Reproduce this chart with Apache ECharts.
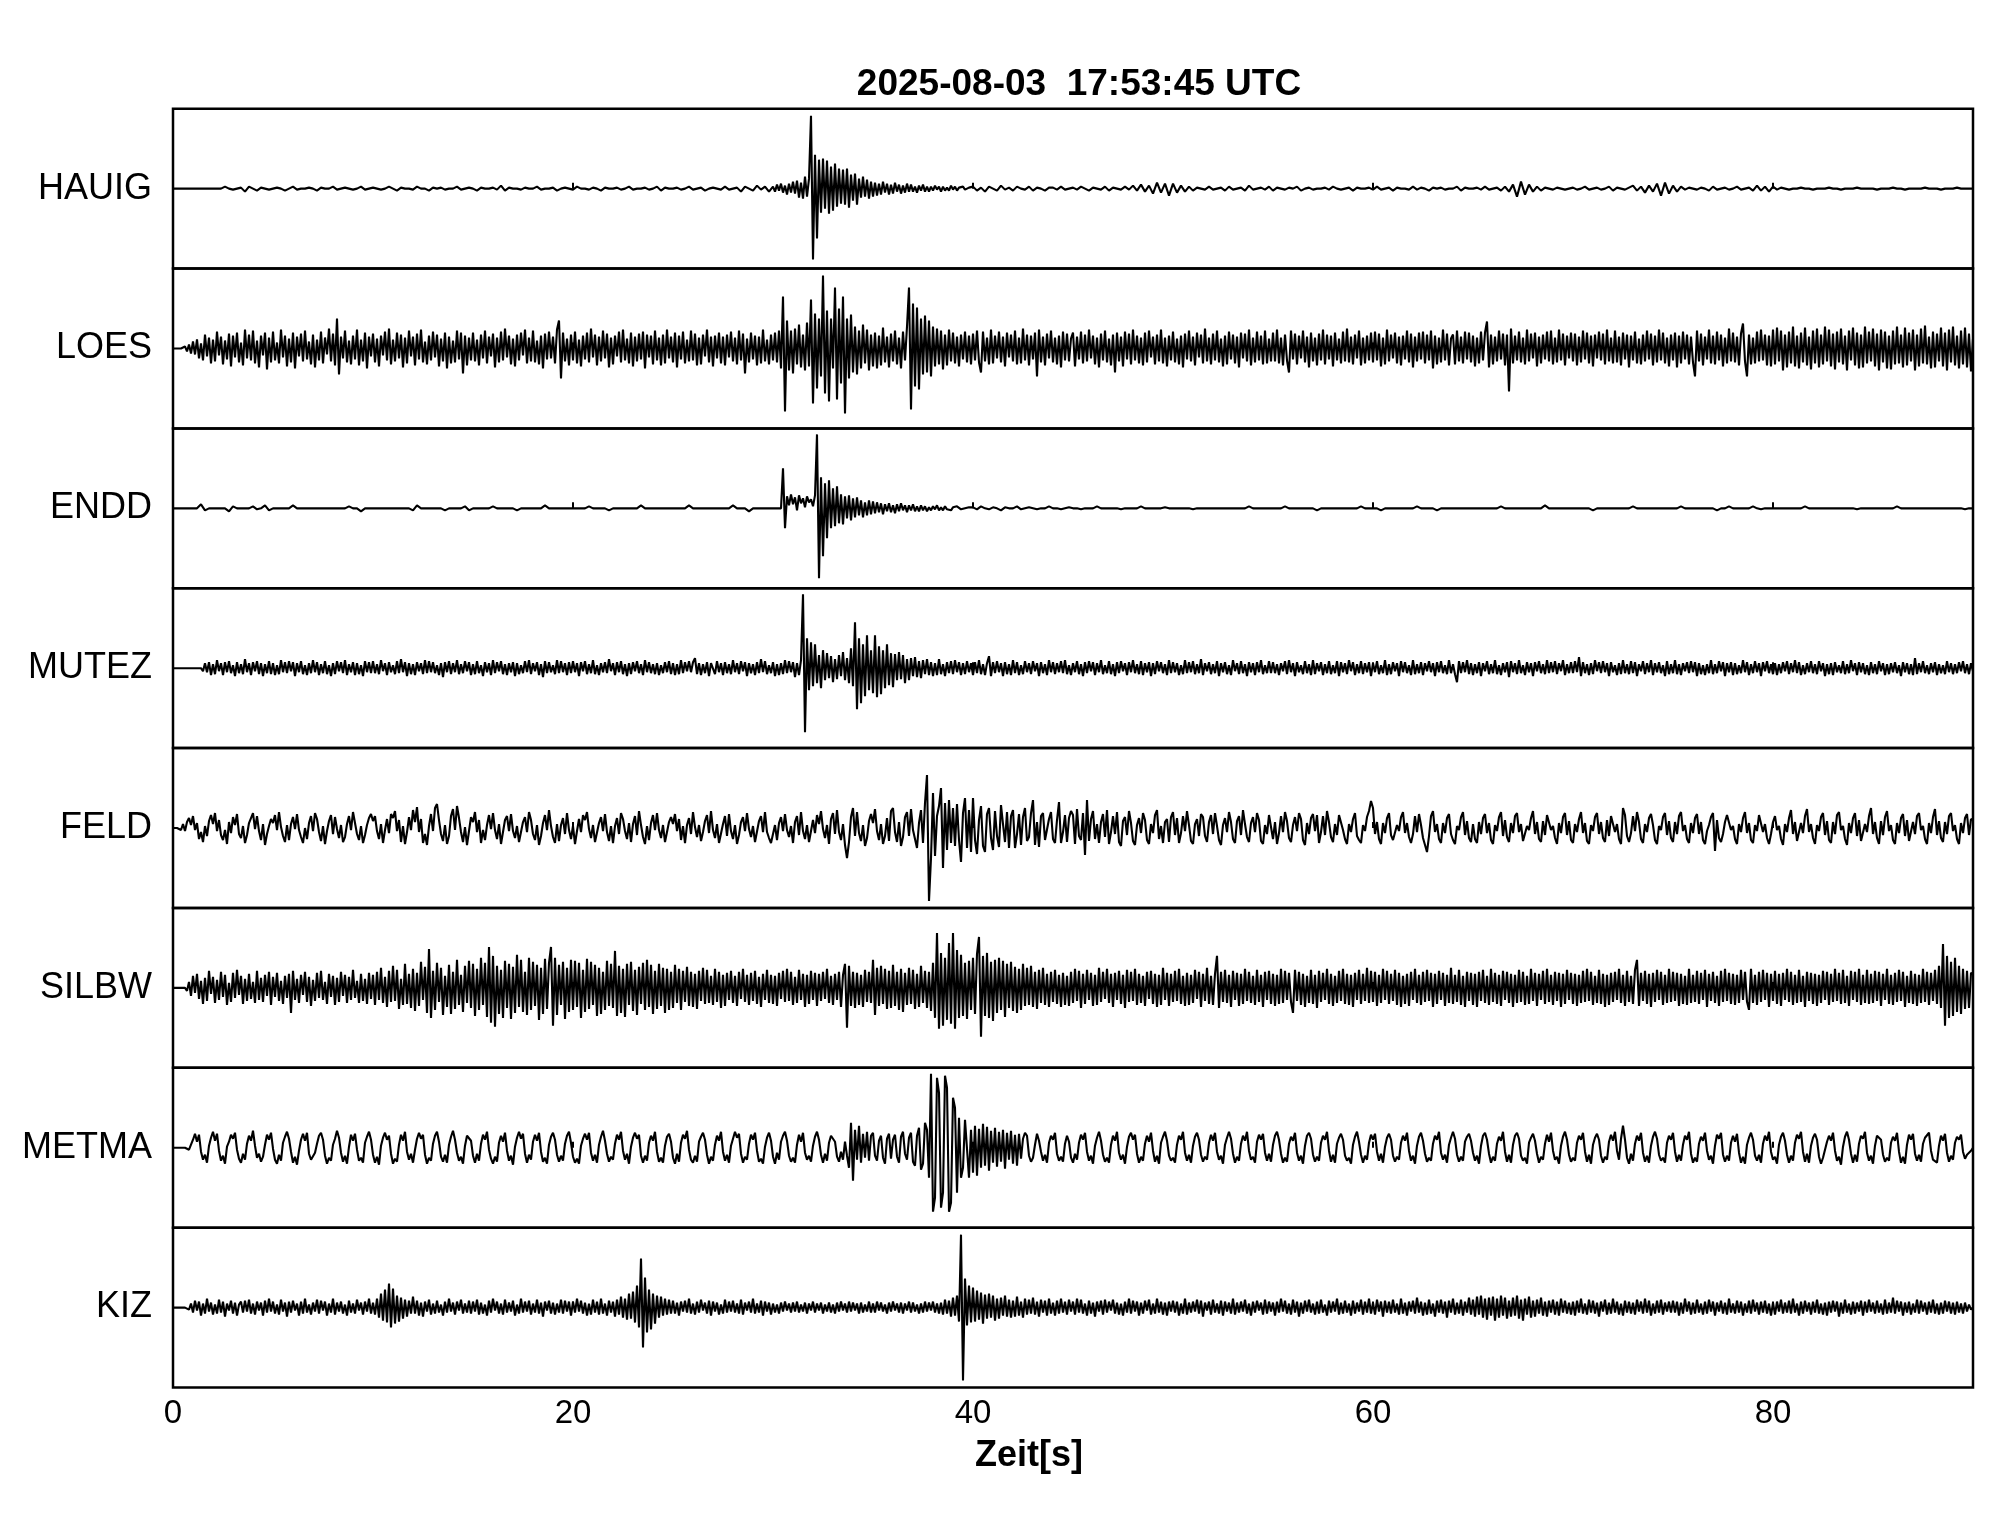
<!DOCTYPE html>
<html><head><meta charset="utf-8">
<script src="https://cdn.jsdelivr.net/npm/echarts@6/dist/echarts.min.js"></script>
<style>html,body{margin:0;padding:0;background:#fff}#c{width:2005px;height:1522px}</style>
</head><body><div id="c"></div>
<script>
// ---- data ----
// Each trace is a list of 5-second chunks; chunk k starts at t = 5*k s and its
// samples are evenly spaced inside those 5 s. The last one-value chunk is t = 90 s.
const TITLE = '2025-08-03  17:53:45 UTC';
const X_LABEL = 'Zeit[s]';
const STATIONS = ['HAUIG','LOES','ENDD','MUTEZ','FELD','SILBW','METMA','KIZ'];
const X_TICKS = [0,20,40,60,80];
const CHUNK_SEC = 5;

const HAUIG = [
[0,0,0,0,0,0,0,0,0,0,0,0,0,2,0,-1,0,1,-3,2,0,-2,1,0,-1],
[0,1,0,-2,0,2,-1,0,0,1,0,-2,1,0,0,2,-1,0,1,0,-1,0,2,-1,0],
[1,0,-1,0,2,0,-2,1,0,0,-1,2,0,0,-2,1,0,1,-1,0,0,2,-1,0,1],
[0,-2,1,0,0,1,-1,3,-2,1,0,0,-1,1,0,0,2,-1,0,0,1,-2,0,1,0],
[-1,2,0,0,-1,1,0,-2,1,0,0,1,-1,0,2,-1,0,0,1,-1,0,2,-2,1,0],
[0,1,-1,0,2,-1,0,1,-2,0,1,0,-1,2,-1,0,1,-3,2,0,-2,3,-1,2,-3],
[2,-3,4,-2,5,-4,3,-6,5,-4, 7,-5,8,-9,6,-10,12,-8,10,73, -71,34,-50,29,-24,30,-20,28,-25,22, -22,25,-18,20,-15,19,-16,20,-19,14, -12,15,-16,10,-9,12,-8,9,-10,7],
[-8,6,-7,5,-6,7,-4,5,-6,4, -5,6,-3,4,-5,3,-4,5,-3,4, -3,2,-4,3,-2,4,-3,2,-3,2, -2,3,-1,2,-3,2,-2,1,-2,3, -1,2,-2,1,-1,2,-1,0,1,-1],
[2,-2,1,-3,2,0,-2,3,-1,1,-2,2,0,-1,2,-2,1,0,-2,1,1,-1,2,-1,0],
[1,-1,2,0,-2,1,0,-1,2,-2,1,0,-1,2,-1,3,-2,4,-3,3,-5,6,-4,5,-7],
[5,-4,3,-3,2,-2,1,0,-1,2,-1,0,1,-2,2,-1,0,1,-2,3,-1,0,1,-1,2],
[-2,1,0,-1,1,0,2,-2,0,1,-1,0,0,1,-1,2,0,-1,0,1,-2,1,0,0,1],
[-1,2,-1,0,1,-2,1,0,0,-1,2,-1,1,0,-2,1,0,1,-1,0,0,2,-2,1,0],
[0,1,-1,2,-1,0,1,-2,2,-3,4,-8,7,-6,4,-3,2,-2,1,0,-1,1,0,-1,0],
[1,-1,0,2,-1,0,1,-1,0,2,-2,1,0,-1,1,3,-2,2,-4,3,-3,5,-7,6,-5],
[3,-3,2,-1,1,0,-1,1,0,-2,2,-1,0,1,-1,0,2,-1,0,1,-2,3,-2,2,-3],
[2,-1,1,0,-1,0,0,1,0,0,-1,0,0,0,1,0,0,-1,0,0,0,1,0,0,0],
[0,-1,0,0,0,1,0,0,-1,0,0,0,0,1,0,0,0,-1,0,0,0,1,0,0,0],
[0]];

const LOES = [
[0,0,0,0,0,0,2,-3,4,-5, 7,-6,9,-10,5,-12,14,-8,11,-15, 9,-13,17,-7,12,-16,8,-11,15,-18, 13,-9,16,-14,6,-17,19,-10,14,-12, 18,-15,8,-19,13,-7,16,-21,11,-14],
[17,-12,6,-15,19,-9,13,-18,10,-14, 16,-20,12,-8,15,-13,18,-11,7,-16, 14,-19,9,-12,17,-15,11,-6,20,-13, 15,-17,30,-26,12,-10,18,-14,8,-16, 13,-11,19,-17,9,-13,16,-20,12,-8],
[15,-14,10,-18,13,-7,17,-12,20,-16, 9,-13,16,-10,14,-19,11,-15,18,-8, 12,-17,15,-11,19,-14,7,-16,13,-12, 17,-9,14,-18,10,-13,16,-20,12,-15, 8,-14,18,-11,16,-25,13,-17,11,-12],
[16,-13,9,-17,14,-10,18,-15,12,-8, 15,-19,11,-14,17,-12,20,-9,13,-16, 10,-18,14,-12,16,-7,19,-15,11,-13, 18,-14,8,-16,13,-20,15,-11,17,-10, 12,-15,19,28,-30,16,-13,10,-17,14],
[-12,17,-15,9,-18,13,-11,16,-14,20, -9,14,-17,12,-13,18,-10,15,-19,11, -16,13,-8,17,-14,19,-12,10,-15,16, -18,12,-13,15,-11,17,-20,14,-9,13, -16,18,-12,11,-17,14,-15,19,-10,12],
[-14,16,-19,13,-11,17,-15,9,-13,18, -12,15,-17,11,-16,14,-8,19,-14,12, -18,13,-10,16,-15,12,-17,14,-9,17, -13,11,-16,18,-12,15,-25,10,-14,16, -11,13,-17,12,-15,19,-13,9,-16,14],
[-12,16,-14,18,-20,52,-63,28,-22,18, -25,20,-16,24,-19,14,-22,26,-18,49, -55,35,-40,30,-28,73,-45,38,-53,30, -20,61,-51,40,-35,52,-65,30,-30,34, -24,22,-26,18,-20,24,-15,19,-22,14],
[-18,16,-20,13,-17,21,-14,12,-19,15, -13,18,-16,11,-20,17,-12,22,61,-61, 45,-38,41,-41,30,-26,33,-24,28,-28, 22,-18,20,-16,18,-21,14,-17,19,-13, 16,-15,12,-18,14,-11,17,-14,13,-16],
[15,-12,18,-14,-24,17,-13,11,-16,19, -15,13,-10,17,-14,12,-18,16,-9,14, -13,18,-16,11,-15,20,-12,14,-17,13, -11,16,-28,19,-14,12,-17,15,-10,18, -14,11,-16,13,-19,17,-12,15,-13,10],
[16,-18,12,-11,17,-15,14,-13,19,-10, 13,-16,11,-19,15,-12,18,-14,10,-17, 14,-24,16,-13,12,-18,17,-11,15,-16, 19,-12,13,-15,11,-17,16,-14,18,-9, 12,-16,14,-13,19,-15,11,-18,13,-12],
[17,-14,10,-16,13,-19,15,-11,18,-13, 12,-17,16,-9,14,-15,20,-13,11,-16, 15,-12,18,-14,10,-18,13,-16,17,-11, 14,-15,12,-19,16,-10,15,-13,19,-17, 11,-14,17,-12,13,-16,18,-15,10,-13],
[16,-13,19,-15,11,-17,14,-12,-24,18, -11,15,-16,13,-10,18,-14,12,-19,16, -13,11,-17,15,-12,19,-16,14,-11,13, -18,16,-12,10,-15,17,-13,20,-14,12, -16,14,-10,18,-17,11,-15,13,-12,16],
[-14,17,-12,15,-18,11,-16,19,-13,14, -10,16,-15,12,-17,13,-11,18,-14,15, -19,12,-13,16,-11,17,-15,14,-12,18, -20,13,-16,11,-14,19,-12,15,-17,10, 14,-16,18,-13,12,-15,17,-11,16,-14],
[13,-18,11,-15,17,-12,16,27,-19,14, -16,12,-13,18,-11,15,-17,14,-43,20, -15,13,-12,17,-14,11,-16,19,-13,15, -10,16,-18,12,-15,14,-11,17,-13,18, -16,11,-14,19,-12,15,-17,13,-10,16],
[-13,15,-17,12,-14,18,-11,16,-15,13, -18,14,-10,17,-12,15,-16,19,-13,11, -15,18,-14,12,-17,16,-11,14,-19,13, -12,17,-15,10,-16,14,-13,18,-11,15, -17,13,-14,19,-12,16,-15,11,-18,14],
[-12,16,-19,13,-15,17,-11,14,-16,12, -14,-28,18,-13,15,-17,12,-11,19,-15, 13,-16,17,-12,14,-18,11,-15,20,-13, 16,-14,12,-17,15,25,-13,-28,14,-16, 11,-15,17,-13,19,-12,14,-17,13,-18],
[19,-16,21,-13,18,-22,14,-19,17,-15, 22,-18,13,-20,16,-14,21,-17,12,-21, 18,-15,20,-19,14,-16,22,-13,19,-18, 15,-21,17,-14,20,-16,13,-22,18,-12, 21,-17,16,-20,14,-19,22,-15,17,-13],
[20,-18,15,-22,19,-14,17,-20,13,-21, 18,-16,22,-15,14,-19,21,-17,16,-13, 19,-22,14,-18,20,-15,23,-16,12,-20, 17,-19,15,-13,21,-18,16,-22,19,-14, 22,-17,13,-20,18,-16,21,-19,15,-23],
[10]];

const ENDD = [
[0,0,0,0,0,0,0,4,-2,0,0,0,0,0,-3,2,0,0,0,0,2,-1,0,3,-2],
[0,0,0,0,0,3,0,0,0,0,0,0,0,0,0,0,0,0,0,2,0,0,-3,0,0],
[0,0,0,0,0,0,0,0,0,0,-2,3,0,0,0,0,0,0,-2,0,0,0,0,2,-2],
[0,0,0,0,0,2,0,0,0,0,0,-2,0,0,0,0,0,0,3,0,0,0,0,0,0],
[0,0,0,0,2,0,0,0,0,-2,0,0,0,0,0,0,0,3,0,0,0,0,0,0,0],
[0,0,0,0,3,0,0,0,0,0,0,0,0,0,0,3,0,0,0,-3,0,0,0,0,0],
[0,0,0,0,0,40,-20,12,3,14, 4,11,-2,13,5,10,1,12,6,9, 2,13,74,-70,31,-48,25,-30,28,-20, 20,-18,22,-15,14,-16,12,-10,13,-12, 10,-9,11,-7,8,-9,6,-7,8,-6],
[7,-5,6,-4,5,-6,4,-3,5,-4, 3,-5,4,-3,5,-2,3,-4,3,-2, 4,-3,2,-3,3,-2,2,-3,1,-2, 2,-1,3,-2,1,-2,2,-1,1,-2, 1,-1,2,0,-1,1,0,-1,1,0],
[1,-1,2,0,-1,1,0,-2,1,0,0,2,-1,0,1,0,-1,0,0,2,0,0,-1,0,1],
[0,0,-1,0,0,0,2,0,0,0,0,0,-1,0,0,0,0,2,0,0,0,0,0,1,0],
[0,0,0,0,0,-1,0,0,0,0,0,0,0,0,0,0,0,0,0,2,0,0,0,0,0],
[0,0,0,2,0,0,0,0,0,0,0,-2,0,0,0,0,0,0,0,0,0,0,2,0,0],
[0,0,-2,0,0,0,0,0,0,0,0,2,0,0,0,0,-2,0,0,0,0,0,0,0,0],
[0,0,0,0,0,0,0,2,0,0,0,0,0,0,0,0,0,0,3,0,0,0,0,0,0],
[0,0,0,0,0,-2,0,0,0,0,0,0,0,0,0,2,0,0,0,0,0,0,0,0,0],
[0,0,2,0,0,0,0,0,0,0,0,-2,0,0,2,0,0,0,0,0,2,0,-1,0,0],
[0,0,0,0,0,0,0,0,2,0,0,0,0,0,0,0,0,0,0,0,0,-1,0,0,0],
[0,0,0,0,0,0,2,0,0,0,0,0,0,0,0,0,0,0,0,0,0,0,0,-1,0],
[0]];

const MUTEZ = [
[0,0,0,0,0,0,0,0,0,0, 0,0,0,0,0,-3,5,-4,6,-7, 4,-6,8,-3,5,-7,6,-4,7,-5, 3,-8,6,-5,4,-6,9,-4,5,-7, 6,-3,7,-6,5,-8,4,-5,7,-6],
[5,-7,3,-6,8,-4,6,-5,7,-3, 6,-8,5,-4,7,-6,3,-7,5,-5, 8,-4,6,-7,4,-5,7,-6,3,-8, 5,-6,7,-3,6,-5,8,-7,4,-4, 6,-7,5,-6,3,-8,7,-4,6,-5],
[7,-5,4,-6,8,-3,5,-7,6,-4, 3,-6,7,-5,9,-4,6,-8,5,-6, 4,-7,6,-3,5,-6,8,-5,7,-4, 6,-5,3,-7,5,-9,6,-4,7,-6, 5,-4,8,-6,4,-5,7,-3,6,-7],
[4,-6,7,-5,3,-8,6,-4,5,-7, 8,-5,6,-3,7,-6,4,-7,5,-4, 6,-8,5,-6,3,-5,7,-4,8,-6, 5,-3,6,-7,4,-9,7,-5,6,-4, 3,-6,8,-5,7,-4,5,-7,6,-5],
[7,-4,5,-8,6,-3,7,-6,4,-5, 8,-6,3,-7,5,-4,6,-5,9,-3, 5,-7,6,-4,7,-6,4,-8,5,-6, 6,-3,7,-5,4,-7,8,-4,6,-5, 4,-6,5,-7,3,-5,6,-4,7,-6],
[5,-7,4,-6,8,-5,6,-3,7,-4, 6,10,-6,5,-7,4,-5,6,-8,5, 3,-6,7,-4,5,-7,6,-5,4,-6, 8,-4,5,-6,7,-3,6,-8,5,-5, 4,-7,6,-5,9,-4,7,-6,3,-5],
[6,-8,4,-7,5,-6,8,-5,7,-4, 6,-9,5,-7,8,74,-64,30,-22,26, -18,24,-15,13,-20,18,-12,15,-10,12, -14,9,-11,13,-8,16,-12,10,-15,20, -18,46,-41,30,-35,24,-28,33,-22,18],
[-25,33,-29,22,-26,18,-20,24,-17,15, -19,14,-12,16,-11,13,-15,9,-12,10, -8,11,-9,7,-10,8,-6,9,-7,6, -8,5,-7,9,-6,4,-8,6,-5,7, -6,8,-4,6,-7,5,-6,7,-4,5],
[-7,6,-5,8,-6,4,-7,5,12,-8, 6,-5,7,-4,5,-8,6,-6,4,-7, 8,-5,6,-7,3,-6,7,-4,5,-6, 7,-3,5,-8,6,-5,4,-7,8,-4, 6,-6,5,-4,7,-5,8,-6,3,-7],
[5,-4,7,-6,4,-8,6,-5,7,-3, 6,-7,5,-4,8,-6,3,-5,7,-6, 4,-8,6,-5,7,-3,5,-7,6,-4, 8,-5,4,-6,7,-7,5,-4,6,-8, 5,-6,7,-3,6,-5,4,-7,8,-5],
[6,-4,5,-7,3,-6,8,-5,6,-4, 7,-6,4,-5,9,-7,5,-3,6,-6, 4,-5,7,-8,5,-4,6,-6,3,-7, 8,-3,5,-6,7,-5,4,-8,6,-4, 5,-7,6,-4,8,-6,3,-5,7,-5],
[6,-5,4,-7,5,-3,7,-6,8,-4, 5,-8,6,-4,3,-6,7,-5,4,-7, 8,-6,5,-3,6,-7,4,-5,7,-6, 3,-5,7,-8,6,-4,5,-6,8,-3, 6,-7,4,-5,7,-6,5,-4,6,-8],
[5,-4,7,-6,3,-5,8,-7,4,-6, 6,-3,5,-8,7,-4,6,-5,3,-7, 8,-6,4,-5,6,-7,5,-3,7,-4, 5,-8,6,-4,7,-5,3,-6,8,-5, 4,-6,-14,7,-5,6,-4,8,-6,5],
[-7,4,-5,6,-8,5,-3,7,-6,4, -5,8,-6,3,-7,5,-4,6,-9,7, -4,5,-6,8,-5,3,-7,6,-4,5, -8,6,-3,7,-5,4,-6,8,-5,6, -4,7,-6,5,-3,8,-7,4,-5,6],
[-5,7,-4,11,-8,6,-5,4,-7,5, -6,8,-3,6,-5,7,-4,5,-8,6, -4,3,-7,5,-6,8,-5,4,-6,7, -5,6,-8,4,-3,7,-6,5,-4,8, -7,5,-4,6,-5,3,-8,7,-6,4],
[-5,8,-6,4,-7,5,-3,6,-5,7, -4,6,-8,5,-6,3,-7,4,-5,8, -6,4,-5,7,-3,6,-8,5,-4,6, -7,5,-6,3,-5,8,-4,6,-7,4, -5,7,-4,5,-8,6,-3,7,-5,4],
[-6,5,-7,4,-5,6,-3,7,-6,5, -4,8,-5,6,-7,3,-6,5,-4,7, -5,4,-6,7,-3,5,-8,4,-6,5, -7,6,-4,3,-5,7,-6,4,-5,8, -3,5,-7,6,-4,5,-6,3,-7,6],
[-5,4,-6,7,-3,5,-7,4,-6,5, -4,6,-5,3,-8,6,-4,5,-6,4, -7,10,-6,5,-4,7,-5,3,-6,5, -4,6,-7,4,-5,3,-6,7,-4,5, -6,4,-5,6,-3,7,-5,4,-6,5],
[-3]];

const FELD = [
[0,0,0,0,-2,4,-3,6,10,3, 12,-2,5,-11,-4,-14,2,-8,7,13, 4,15,-3,8,-7,-12,-2,-16,6,-5, 11,3,14,-6,-10,2,-15,-7,5,10, 15,-1,12,-3,-12,4,-17,-6,2,9],
[5,13,-2,16,1,-8,-14,3,-12,4, 11,-1,14,-2,-9,-15,0,-11,5,12, -3,15,9,-4,-13,2,-16,-3,7,13, -6,11,-1,-10,3,-14,-9,4,12,-2, 16,5,-6,-12,2,-15,-7,3,10,14],
[7,12,-3,-11,4,-15,-2,9,-5,14, 10,17,-3,8,-14,2,-16,-4,11,-2, 18,6,21,-4,9,-15,-6,-17,2,14, -3,20,24,8,-6,-13,3,-16,-8,12, 19,-2,22,10,-4,-14,1,-17,-3,11],
[6,16,-4,8,-15,-2,-12,3,13,-1, 15,-2,-11,4,-16,-4,8,12,-3,14, -3,-10,2,-14,-13,6,11,-4,16,8, -6,-12,3,-17,-8,5,13,-2,18,2, -9,-15,4,-13,3,10,-6,15,-2,-11],
[2,-16,-3,9,-4,13,8,16,-1,-10, 3,-14,-12,5,11,-3,14,-4,-13,2, -15,2,10,-6,15,9,-3,-11,5,-14, 4,12,-7,17,3,-9,-16,2,-12,5, 13,-2,15,-2,-10,3,-14,-16,6,11],
[4,14,-3,9,-12,2,-15,3,10,-6, 16,1,-9,3,-13,-4,7,13,-5,17, -2,-10,4,-15,-13,4,12,-8,14,-3, -11,3,-16,-7,6,11,-3,15,-1,-9, 2,-14,-13,7,12,-4,16,-4,-10,-15],
[-6,3,-12,5,11,-3,14,-2,-9,2, -15,6,12,-7,16,-3,-11,3,-14,-12, 8,-5,13,4,17,-1,-10,3,-16,9, 15,-6,18,-4,-12,4,-17,-30,-14,11, 20,-8,16,-5,-13,3,-18,-10,7,14],
[5,19,-3,-12,4,-16,-8,10,-13,17, 20,-4,-14,6,-18,-9,11,16,-8,19, -2,-11,-20,5,18,-15,25,53,-73,-30, 35,-28,12,22,40,-40,25,-22,28,-15, 20,-18,24,-12,-34,15,30,-20,18,-24],
[30,-12,-26,8,22,-18,-24,14,20,-10, -22,17,-8,-19,23,4,-14,16,-20,12, 18,-20,-6,14,-17,11,20,-13,-9,15, 28,-17,6,-19,12,15,-12,-14,9,16, -11,-15,8,26,-15,-4,13,-14,10,17],
[13,-16,19,-8,-12,15,-27,28,-13,9, 17,-11,4,-15,6,14,-9,18,-16,-4, 12,-6,16,-14,-18,7,11,-7,17,5, -13,-17,3,10,-5,15,8,-12,-16,4, -5,13,18,-11,2,-15,6,9,-14,11],
[16,-7,10,-15,-5,12,-3,17,3,-13, -16,4,9,-8,14,11,-8,-14,6,13, -6,15,2,-12,-17,3,10,-4,16,6, -11,-15,7,12,-7,18,4,-9,-14,5, 11,-4,15,8,-13,-16,3,-6,13,14],
[-11,6,-16,-5,12,-4,16,7,-10,-14, 3,11,-3,15,9,-12,-17,5,-6,10, 14,-3,13,-15,-4,12,-7,17,6,-9, -14,4,-7,13,15,-2,-11,-16,4,-4, 9,15,-8,-12,-15,3,-3,11,17,27],
[20,-6,6,-11,-16,5,-5,10,15,-7, -12,-14,3,-3,11,16,-5,5,-9,-15, -6,12,-4,14,3,-10,-17,-24,-8,12, 17,-4,4,-11,-15,5,-5,10,14,-6, -12,-16,2,-2,11,16,-7,7,-10,-14],
[4,-11,-15,6,-6,10,14,-5,5,-12, -16,3,-3,11,16,-8,8,-9,-14,5, -5,12,15,-4,4,-13,-15,2,-2,10, 17,-6,6,-11,-14,7,-7,13,14,-2, 2,-10,-16,5,-5,11,15,-7,7,-12],
[-15,4,-4,9,16,-5,5,-13,-16,3, -3,11,15,-6,6,-10,-14,8,-8,12, 14,-4,4,-11,-16,20,13,-8,-14,-5, 12,-3,16,6,-11,-15,4,-4,10,14, 3,-12,-16,2,-2,11,15,-7,7,-10],
[-14,6,-6,12,16,-3,3,-11,-15,5, -5,10,14,-6,6,-12,-16,-3,3,11, 15,-23,8,-10,-14,-6,6,13,15,-2, 2,-11,-16,4,-4,10,16,-5,5,-12, -15,3,-3,13,15,-4,4,-10,-16,-6],
[6,12,-2,2,-11,-17,4,-4,10,18, -6,6,-13,-14,5,-5,12,19,-4,4, -10,-16,3,-3,11,15,-7,7,-12,-15, 6,-6,13,16,-2,2,-11,-17,5,-5, 10,15,-8,8,-13,-15,4,-4,12,20],
[-6,6,-10,-16,7,-7,11,17,-3,3, -12,-16,5,-5,10,14,-8,8,-13,-15, 6,-6,12,15,-2,2,-11,-16,5,-5, 11,19,-7,7,-10,-14,6,-6,12,15, -3,3,-11,-16,5,-5,10,14,-7,9],
[8]];

const SILBW = [
[0,0,0,0,0,0,0,-3,6,-8, 12,-5,14,-11,7,-16,10,-13,17,-6, 11,-15,8,-12,16,-9,13,-17,5,-14, 15,-10,18,-7,12,-16,9,-13,14,-11, 6,-15,17,-12,10,-14,13,-8,16,-17],
[11,-9,15,-13,7,-16,12,-10,14,-25, 17,-12,9,-15,13,-7,16,-14,11,-18, 8,-13,15,-10,17,-12,6,-16,14,-9, 12,-17,10,-14,16,-8,13,-15,11,-12, 18,-10,7,-15,14,-13,9,-16,15,-11],
[13,-17,16,-12,20,-15,11,-19,17,-14, 22,-13,18,-21,9,-17,24,-16,14,-20, 19,-23,15,-18,26,-12,21,-25,39,-30, 17,-22,25,-14,20,-27,12,-19,23,-26, 16,-21,28,-17,13,-24,22,-15,27,-20],
[24,-28,19,-22,30,-17,25,-29,41,-35, 32,-39,22,-26,18,-30,27,-20,24,-31, 21,-25,33,-19,28,-24,16,-27,30,-22, 26,-18,23,-32,20,-26,29,-21,25,41, -38,30,-27,23,-17,26,-31,20,-24,28],
[-22,27,-19,25,-30,18,-24,29,-21,26, -17,23,-28,20,-26,16,-22,27,-18,24, -20,37,-28,22,-25,19,-29,24,-17,26, -23,18,-27,21,-16,25,-22,28,-19,23, -26,17,-21,24,-18,20,-25,19,-22,16],
[-20,23,-15,19,-22,17,-14,21,-18,16, -19,14,-21,17,-13,20,-16,18,-15,12, -17,19,-14,16,-20,13,-18,15,-12,17, -15,12,-18,16,-11,19,-14,13,-17,15, -13,17,-16,11,-19,14,-12,18,-15,13],
[-16,12,-18,15,-11,17,-14,19,-13,16, -17,11,-15,18,-12,14,-19,13,-16,17, -12,15,-18,14,-13,16,-11,19,-15,12, -17,14,-12,16,-19,13,24,-40,22,-18, 16,-20,15,-17,13,-19,18,-14,16,-15],
[28,-27,20,-18,22,-16,19,-21,17,-20, 23,-18,16,-22,19,-24,15,-17,20,-16, 18,-21,14,-19,22,-15,17,-20,16,-23, 25,-30,55,-41,35,-38,30,-32,45,-36, 55,-41,38,-30,33,-28,25,-31,27,-22],
[30,-26,34,51,-49,32,-28,35,-30,26, -33,28,-25,30,-22,27,-29,24,-20,26, -23,21,-25,19,-22,24,-18,20,-17,22, -19,16,-21,18,-15,20,-17,14,-19,16, -14,18,-16,13,-19,15,-17,12,-18,16],
[-15,19,-13,17,-20,14,-16,18,-12,15, -18,13,-17,20,-14,16,-11,19,-15,14, -19,15,-12,17,-16,13,-20,18,-14,16, -13,19,-17,14,-15,12,-18,16,-11,17, -16,14,-19,13,-17,20,-12,15,-18,14],
[-14,17,-13,19,-16,12,-18,15,-17,13, -15,18,-11,16,-19,14,-13,20,-16,12, -17,14,32,-20,16,-14,18,-15,13,-19, 17,-12,15,-18,14,-16,19,-13,16,-15, 12,-17,18,-14,13,-19,16,-12,17,-16],
[14,-18,13,-16,19,-15,17,-12,15,-14, -25,18,-13,16,-17,14,-19,12,-15,18, -16,13,-20,17,-14,15,-12,19,-16,14, -18,12,-15,17,-13,19,-16,14,-17,13, -19,15,-12,18,-16,14,-13,20,-15,17],
[-14,16,-18,13,-15,19,-12,17,-16,14, -13,18,-17,15,-19,12,-16,14,-18,16, -12,19,-15,13,-17,16,-14,18,-13,15, -19,14,-16,17,-12,15,-18,13,-15,20, -16,13,-14,18,-17,12,-19,16,-13,15],
[-17,14,-19,16,-13,18,-15,12,-17,19, -14,15,-16,13,-18,17,-12,16,-15,14, -19,13,-15,18,-14,16,-17,12,-16,19, -13,15,-18,14,-12,17,-16,19,-14,13, -17,16,-13,15,-19,14,-16,18,-12,15],
[-16,14,-18,13,-15,17,-14,19,-13,16, -17,12,-15,18,-16,14,-19,13,-17,15, -14,16,-12,19,-15,13,-18,17,-14,12, -16,18,28,-18,15,-13,17,-16,14,-19, 15,-14,18,-12,16,-17,13,-15,19,-14],
[16,-13,15,-18,14,-16,12,-17,19,-15, 13,-14,17,-16,15,-12,18,-19,14,-13, 16,-15,12,-18,17,-14,19,-13,15,-16, 14,-17,13,-15,18,-12,16,-14,-22,19, -15,13,-17,16,-14,18,-12,15,-19,14],
[-13,17,-16,14,-18,15,-12,19,-14,16, -17,13,-15,18,-14,12,-19,16,-13,15, -16,14,-18,13,-15,17,-12,16,-17,14, -14,19,-13,15,-16,18,-15,12,-18,17, -12,16,-14,19,-17,13,-15,18,-16,14],
[-15,17,-13,16,-18,14,-12,19,-16,13, -17,15,-14,18,-13,16,-19,12,-15,17, -16,14,-18,13,-15,19,-14,16,-17,15, -13,18,-16,22,-20,44,-38,32,-30,26, -28,30,-24,22,-26,19,-21,17,-20,15],
[14]];

const METMA = [
[0,0,0,0,0,0,0,0,-2,3, 8,14,6,13,-4,-12,-7,-15,2,10, 16,7,14,-3,-13,-8,-16,1,6,13, 9,15,-2,-11,-15,-6,-12,4,12,7, 17,2,-10,-6,-14,-9,3,13,8,15],
[-1,-12,-16,-7,-13,5,11,16,9,-4, -15,-9,-17,-3,8,14,7,15,-6,-12, -14,-5,4,12,15,8,-8,-16,-10,-13, 3,9,17,10,-5,-14,-8,-16,1,13, 7,14,-2,-13,-10,-15,5,11,16,8],
[-7,-15,-9,-17,2,10,15,8,12,-6, -16,-11,-14,3,13,7,16,-4,-12,-6, -15,-2,9,15,9,13,-7,-16,-10,-13, 4,12,16,6,-9,-14,-7,-15,3,11, 17,8,-5,-13,-9,-16,2,12,14,7],
[-8,-15,-6,-13,4,13,8,16,-2,-11, -16,-9,-14,5,12,6,15,-3,-13,-8, -17,1,10,16,9,14,-6,-15,-7,-12, 6,13,7,15,-4,-14,-10,-16,3,11, 15,8,-7,-14,-8,-13,4,12,16,5],
[-9,-15,-11,-16,2,9,14,8,15,-5, -13,-7,-15,3,11,17,7,-6,-14,-9, -12,4,13,8,16,-3,-12,-6,-16,1, 10,15,9,13,-8,-15,-8,-13,5,12, 7,16,-4,-14,-10,-15,2,11,14,6],
[-10,-16,-6,-14,5,13,9,17,-2,-12, -15,-8,-14,6,11,15,8,-7,-16,-9, -13,3,12,7,16,-4,-13,-7,-15,2, 9,16,10,14,-6,-15,-9,-12,4,13, 8,15,-3,-14,-11,-16,1,10,15,7],
[-9,-16,-5,-12,6,12,16,7,-8,-14, -10,-15,3,13,6,15,-5,-12,-8,-14, 2,11,16,8,-7,-15,-6,-13,5,12, 14,6,-9,-14,-4,-12,6,-8,-20,25, -33,18,-12,22,-15,14,-10,16,-13,12],
[15,-8,-13,7,12,-10,-16,9,14,-11, 8,13,-9,-15,11,16,-6,-12,10,15, -14,-18,12,20,-22,-16,25,18,-30,74, -64,-50,70,55,-60,-45,72,60,-64,-55, 50,40,-45,30,-30,-20,28,30,-30,18],
[-25,22,-28,19,-20,24,-18,21,-23,17, -15,20,-19,16,-14,18,-21,15,-12,17, -16,13,-18,14,-11,9,15,12,-8,-14, -10,3,14,7,-4,-13,-7,-15,5,12, 8,15,-6,-13,-9,-14,4,12,6,-10],
[-15,-6,-12,5,13,8,15,-4,-13,-8, -16,2,10,16,7,-7,-14,-10,-15,3, 12,7,16,-5,-12,-7,-16,1,11,15, 8,13,-6,-15,-9,-13,4,12,6,15, -3,-14,-8,-16,5,11,16,7,-8,-13],
[-10,-15,3,12,8,16,-5,-13,-7,-15, 2,11,15,8,-7,-14,-9,-12,5,13, 7,15,-4,-12,-8,-16,3,10,16,9, -6,-15,-9,-13,4,12,7,16,-3,-12, -9,-15,6,13,8,14,-5,-13,-6,-14],
[3,12,16,8,-6,-15,-10,-14,4,11, 7,15,-5,-13,-8,-16,2,12,15,9, -7,-14,-9,-13,5,12,8,16,-3,-14, -7,-15,4,10,14,8,-8,-13,-10,-16, 3,11,16,6,-7,-15,-8,-12,5,13],
[8,14,-4,-13,-6,-15,1,10,14,8, -8,-14,-9,-12,5,12,7,15,-3,-13, -8,-16,2,11,15,7,-6,-14,-10,-13, 4,12,8,16,-5,-12,-7,-15,3,10, 16,9,-7,-14,-9,-13,6,11,14,7],
[-5,-13,-8,-16,2,12,15,8,-6,-15, -9,-13,4,11,7,16,-4,-14,-7,-15, 3,12,15,9,-8,-13,-10,-16,5,10, 14,7,-6,-15,-9,-12,4,13,6,15, -3,-12,-9,-16,2,11,16,8,-7,-14],
[-10,-13,5,12,8,15,-4,-14,-7,-16, 3,10,14,8,-8,-15,-9,-12,6,13, 7,16,-3,-12,9,22,8,-10,-16,-6, -13,4,12,7,15,-5,-14,-8,-15,2, 11,16,9,-7,-13,-10,-15,5,12,8],
[15,-4,-14,-7,-13,3,12,8,16,-6, -15,-10,-14,4,11,7,15,-3,-12,-8, -16,2,13,9,15,-7,-14,-8,-13,5, 12,6,14,-5,-15,-9,-16,3,10,15, 8,-8,-13,-7,-15,4,12,7,16,-4],
[-12,-9,-16,3,11,15,7,-7,-15,-8, -13,5,13,9,16,-4,-14,-6,-15,2, 10,14,8,-9,-16,-10,-12,6,12,7, 15,-3,-13,-9,-17,1,11,16,8,-6, -15,-7,-14,4,12,9,16,-5,-13,-8],
[-16,2,12,14,8,-7,-14,-10,-13,5, 11,7,15,-4,-15,-9,-16,3,13,8, 14,-6,-13,-7,-14,4,10,9,15,-3, -12,-10,-15,2,12,7,14,-5,-14,-8, -12,5,11,8,13,-4,-11,-7,-6,-3],
[0]];

const KIZ = [
[0,0,0,0,0,0,0,0,-2,4, -5,7,-3,6,-8,4,-6,9,-4,5, -7,3,-6,8,-5,6,-9,4,-3,7, -6,5,-8,3,6,-5,7,-4,8,-6, 4,-7,6,-3,5,-8,7,-5,9,-4],
[6,-6,3,-7,8,-4,5,-9,6,-5, 7,-3,4,-8,6,-6,9,-5,3,-7, 5,-4,8,-6,7,-3,6,-8,4,-5, 9,-7,5,-4,6,-6,3,-8,7,-5, 4,-6,8,-3,5,-7,6,-4,9,-6],
[5,-7,9,-10,14,-13,18,-15,24,-20, 19,-16,12,-14,10,-11,8,-9,7,-6, 11,-6,7,-8,5,-9,6,-4,8,-7, 4,-6,7,-5,3,-8,6,-5,9,-4, 5,-7,6,-3,8,-6,4,-5,7,-6],
[6,-4,8,-7,5,-6,3,-8,7,-5, 9,-3,6,-6,4,-7,8,-5,5,-4, 7,-8,3,-6,9,-5,6,-4,7,-7, 4,-5,8,-6,5,-9,6,-3,7,-6, 5,-7,4,-5,8,-6,7,-4,6,-8],
[6,-5,9,-4,7,-6,5,-8,4,-7, 8,-5,6,-7,9,-6,4,-8,7,-5, 6,-9,8,-7,11,-10,9,-12,14,-11, 16,-15,22,-20,49,-40,30,-25,18,-22, 14,-16,12,-10,11,-8,9,-7,8,-6],
[7,-6,5,-8,6,-4,7,-5,9,-6, 4,-7,6,-5,8,-3,5,-6,7,-8, 6,-4,5,-7,3,-6,8,-5,6,-4, 7,-5,4,-6,8,-7,5,-3,6,-5, 9,-6,4,-5,7,-8,6,-4,5,-7],
[4,-5,3,-6,5,-4,6,-3,4,-5, 5,-4,6,-5,3,-4,5,-6,4,-3, 6,-5,4,-3,5,-6,3,-4,5,-5, 3,-6,5,-4,6,-3,4,-5,6,-4, 5,-3,4,-6,5,-5,3,-4,6,-5],
[4,-5,6,-3,5,-4,3,-6,5,-4, 6,-3,4,-5,5,-6,4,-3,6,-5, 5,-4,3,-6,4,-5,6,-4,5,-3, 6,-5,4,-6,5,-7,8,-6,7,-9, 10,-8,12,-14,73,-73,29,-18,22,-15],
[20,-14,17,-12,15,-16,13,-11,14,-10, 12,-13,9,-11,10,-8,12,-9,8,-10, 7,-9,11,-8,6,-10,9,-7,8,-6, 10,-7,6,-9,8,-5,7,-8,9,-6, 5,-8,7,-6,9,-5,6,-7,8,-4],
[6,-7,9,-5,8,-6,4,-8,7,-6, 5,-9,6,-4,7,-7,8,-5,6,-3, 8,-6,5,-7,4,-8,6,-5,9,-6, 7,-4,6,-8,5,-6,7,-3,8,-7, 4,-6,9,-5,6,-7,5,-8,6,-4],
[7,-5,6,-8,4,-6,9,-7,5,-5, 6,-4,8,-6,7,-9,5,-3,6,-7, 8,-5,4,-6,7,-8,6,-4,5,-6, 9,-7,5,-5,6,-4,8,-6,4,-8, 6,-5,7,-3,5,-7,8,-6,6,-4],
[5,-8,6,-5,9,-4,7,-6,4,-7, 8,-5,6,-9,5,-6,7,-4,8,-5, 4,-7,6,-6,8,-5,3,-8,7,-5, 6,-4,9,-7,5,-6,7,-5,4,-8, 7,-6,5,-4,8,-7,6,-5,9,-6],
[5,-7,8,-4,6,-9,7,-5,6,-6, 8,-5,4,-7,9,-6,5,-8,6,-4, 7,-6,10,-5,6,-8,5,-7,8,-6, 4,-9,7,-5,8,-6,6,-10,7,-5, 9,-7,5,-6,8,-8,6,-5,10,-7],
[8,-9,11,-7,12,-10,9,-12,10,-8, 11,-13,9,-10,12,-8,10,-11,7,-9, 10,-8,12,-11,8,-13,9,-7,11,-10, 7,-9,8,-6,10,-8,6,-9,7,-5, 8,-7,6,-8,9,-5,7,-6,5,-7],
[6,-8,7,-5,9,-6,4,-7,8,-5, 7,-6,5,-9,6,-4,8,-7,5,-6, 9,-5,6,-7,4,-8,7,-5,6,-6, 5,-7,8,-4,6,-6,9,-5,7,-8, 4,-6,7,-5,8,-7,5,-4,6,-5],
[7,-5,6,-8,5,-6,9,-4,6,-7, 5,-6,8,-5,4,-7,6,-6,8,-4, 6,-8,5,-4,7,-6,5,-7,9,-5, 4,-6,7,-5,6,-8,4,-5,7,-6, 8,-4,5,-7,6,-5,7,-6,4,-8],
[5,-7,6,-4,8,-6,5,-5,7,-6, 9,-5,4,-8,6,-6,7,-4,5,-7, 6,-5,8,-6,4,-7,5,-8,6,-5, 7,-4,6,-9,5,-6,8,-5,4,-7, 6,-6,5,-4,7,-8,6,-5,8,-4],
[5,-6,7,-5,4,-7,8,-6,5,-5, 10,-6,7,-4,6,-8,5,-5,6,-7, 4,-5,8,-6,7,-4,5,-7,6,-5, 8,-6,4,-7,5,-6,7,-4,6,-6, 5,-7,6,-5,4,-6,5,-4,3,-2],
[0]];

const TRACES = [HAUIG, LOES, ENDD, MUTEZ, FELD, SILBW, METMA, KIZ];

// ---- layout ----
const FONT = '"Liberation Sans", Arial, Helvetica, sans-serif';
const PLOT_LEFT = 173, PLOT_WIDTH = 1800, PLOT_TOP = 108.7, PANEL_H = 159.85;

function toPoints(chunks) {
  const pts = [];
  chunks.forEach((c, k) => {
    const step = c.length > 1 ? CHUNK_SEC / c.length : 0;
    c.forEach((v, i) => pts.push([k * CHUNK_SEC + i * step, v]));
  });
  return pts;
}

const chart = echarts.init(document.getElementById('c'), null, {renderer: 'canvas'});
const grids = [], xAxes = [], yAxes = [], series = [];
STATIONS.forEach((name, k) => {
  const last = k === STATIONS.length - 1;
  grids.push({left: PLOT_LEFT, width: PLOT_WIDTH, top: PLOT_TOP + PANEL_H * k, height: PANEL_H,
    show: true, borderColor: '#000', borderWidth: 2.5, backgroundColor: 'rgba(0,0,0,0)'});
  xAxes.push({type: 'value', gridIndex: k, min: X_TICKS[0], max: 90, interval: X_TICKS[1] - X_TICKS[0],
    axisLine: {show: false},
    axisTick: {show: true, inside: true, length: 6, lineStyle: {color: '#000', width: 2}},
    axisLabel: {show: last, fontSize: 33, color: '#000', fontFamily: FONT, margin: 10, showMaxLabel: false},
    splitLine: {show: false}});
  yAxes.push({type: 'value', gridIndex: k, min: -80, max: 80,
    axisLine: {show: false}, axisTick: {show: false}, axisLabel: {show: false}, splitLine: {show: false},
    name: name, nameLocation: 'middle', nameRotate: 0, nameGap: 21,
    nameTextStyle: {fontSize: 36, color: '#000', fontFamily: FONT, align: 'right', verticalAlign: 'middle', padding: [5, 0, 0, 0]}});
  series.push({type: 'line', xAxisIndex: k, yAxisIndex: k,
    data: toPoints(TRACES[k]),
    showSymbol: false, symbol: 'none', clip: true, silent: true,
    lineStyle: {color: '#000', width: 2.1}});
});

chart.setOption({
  animation: false,
  backgroundColor: '#fff',
  grid: grids, xAxis: xAxes, yAxis: yAxes, series: series,
  graphic: [
    {type: 'text', x: 1079, y: 84.5, style: {text: TITLE, fontSize: 37, fontWeight: 'bold', fontFamily: FONT,
      fill: '#000', align: 'center', verticalAlign: 'middle'}},
    {type: 'text', x: 1029, y: 1456, style: {text: X_LABEL, fontSize: 36, fontWeight: 'bold', fontFamily: FONT,
      fill: '#000', align: 'center', verticalAlign: 'middle'}}
  ]
});
</script>
</body></html>
